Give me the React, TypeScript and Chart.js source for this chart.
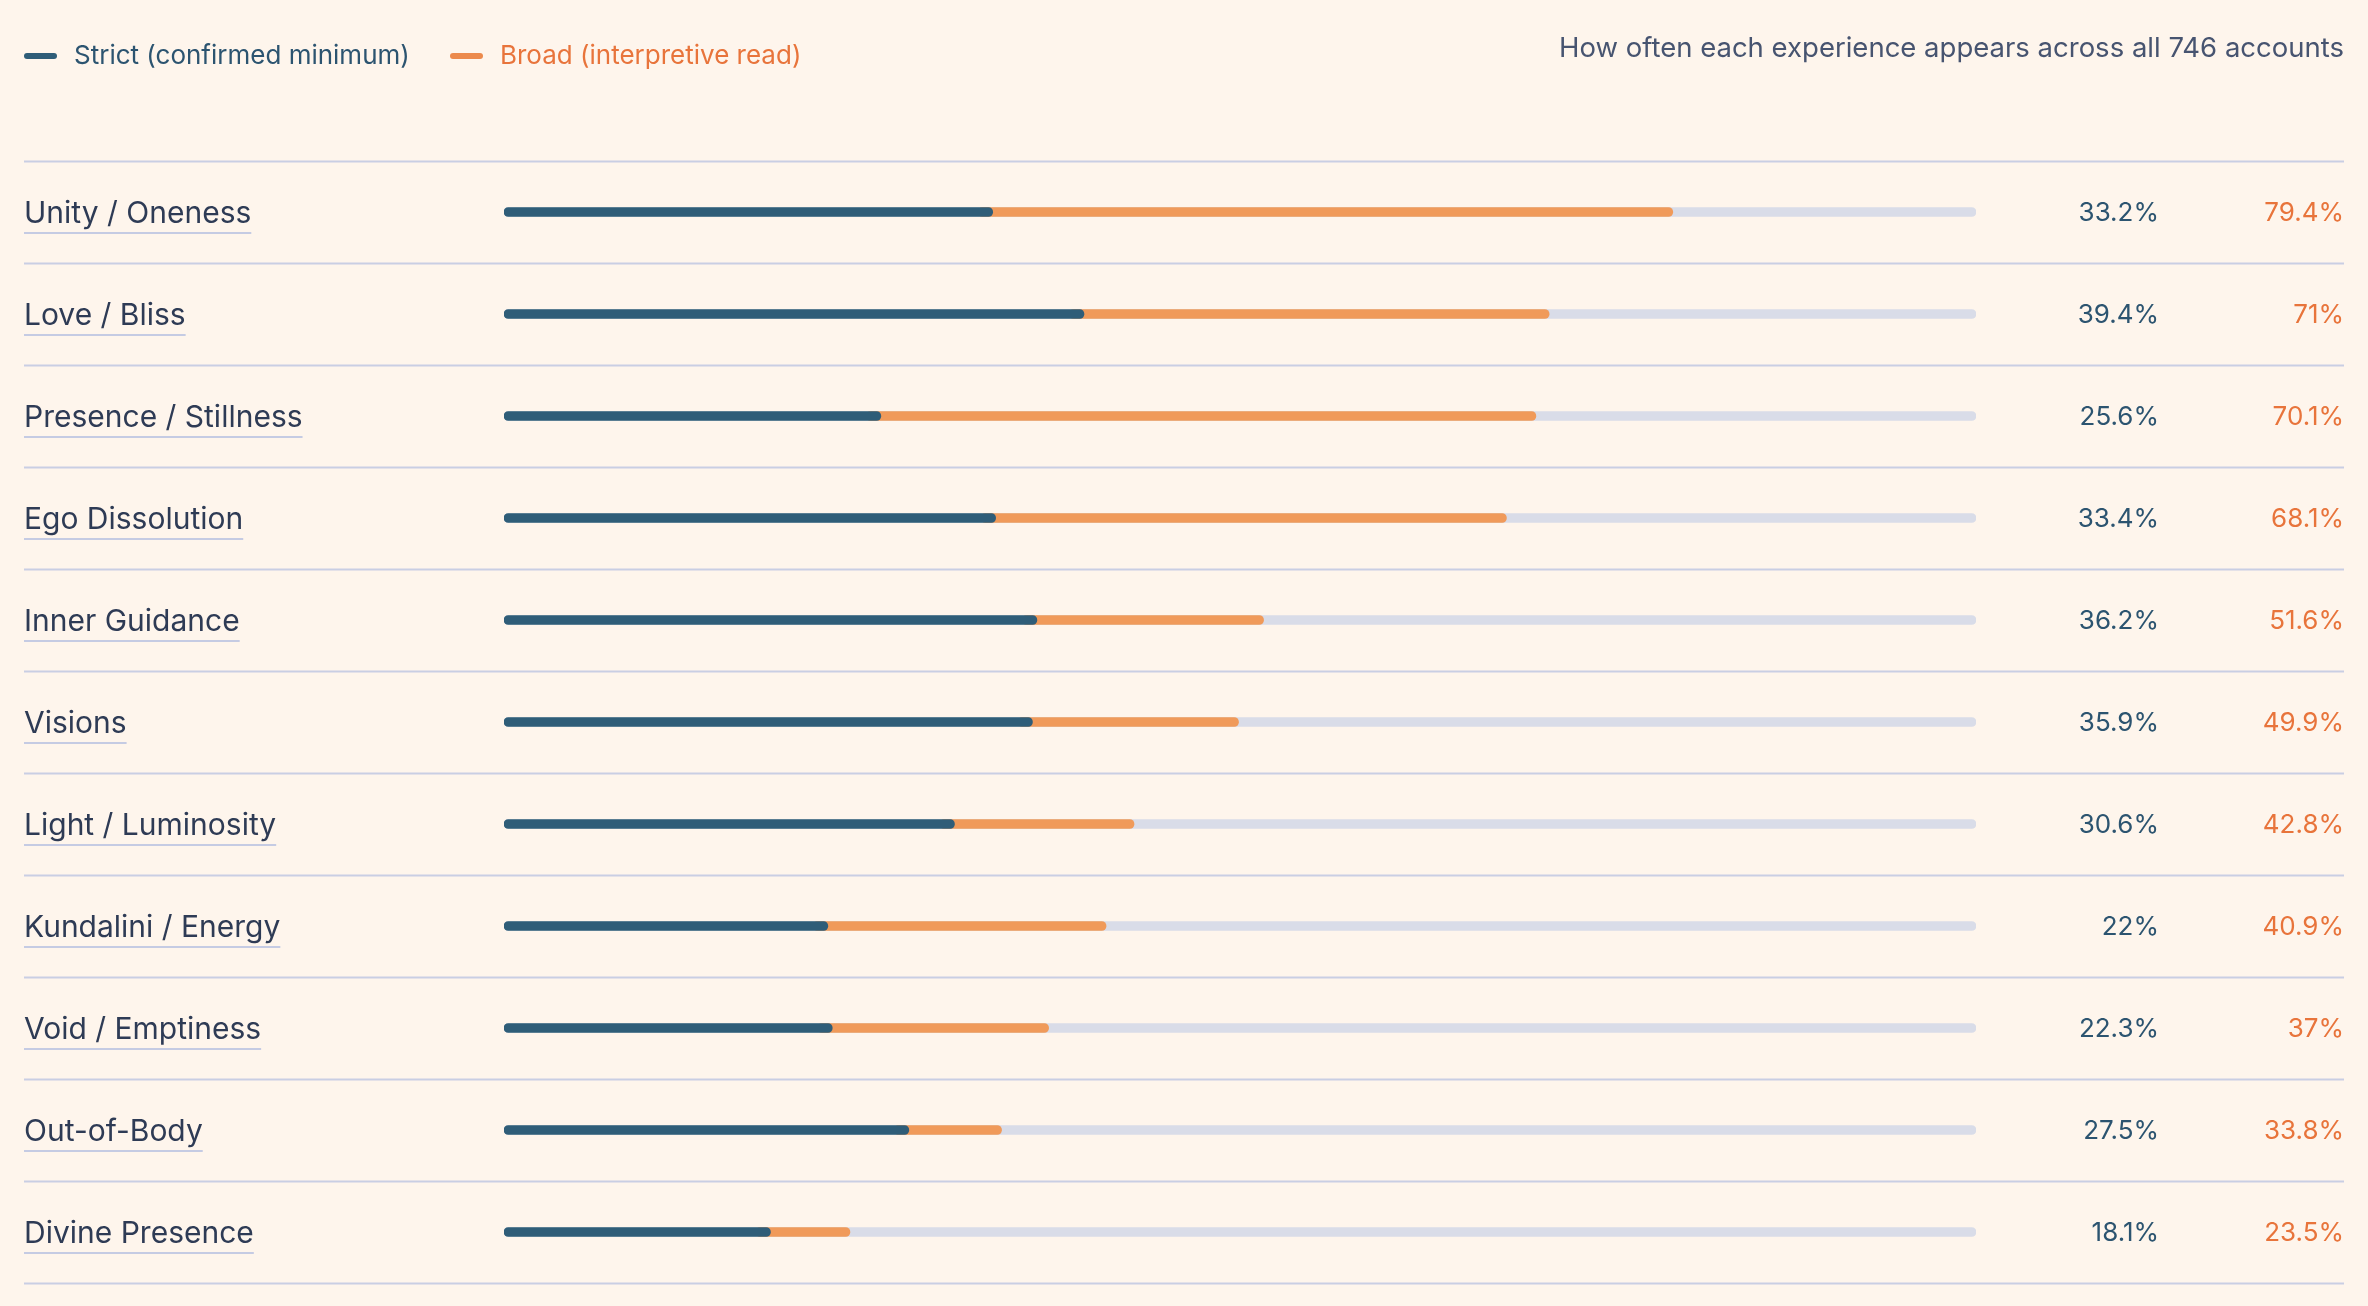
import React, { useEffect, useRef } from "react";
import { Chart, registerables } from "chart.js";
Chart.register(...registerables);

const categories = ["Unity / Oneness","Love / Bliss","Presence / Stillness","Ego Dissolution","Inner Guidance","Visions","Light / Luminosity","Kundalini / Energy","Void / Emptiness","Out-of-Body","Divine Presence"];
const strictValues = [33.2,39.4,25.6,33.4,36.2,35.9,30.6,22,22.3,27.5,18.1];
const broadValues = [79.4,71,70.1,68.1,51.6,49.9,42.8,40.9,37,33.8,23.5];
const title = "How often each experience appears across all 746 accounts";
const legendLabels = ["Strict (confirmed minimum)", "Broad (interpretive read)"];

const STRICT = "#2f5d78";
const BROAD = "#f09a5a";
const STRICT_TXT = "#2c5470";
const BROAD_TXT = "#e8743b";
const FONT = "Inter, 'Noto Sans', sans-serif";

export default function App() {
  const ref = useRef<HTMLCanvasElement>(null);
  useEffect(() => {
    document.body.style.background = "#fef5ec";
    const deco = {
      id: "deco",
      afterDatasetsDraw(chart: any) {
        const ctx = chart.ctx as CanvasRenderingContext2D;
        const y = chart.scales.y;
        const W = chart.width;
        ctx.save();
        const leg = [[16, STRICT, STRICT_TXT, legendLabels[0]], [442, "#ec8a4c", BROAD_TXT, legendLabels[1]]] as any[];
        ctx.font = `26px ${FONT}`;
        ctx.textBaseline = "middle";
        leg.forEach(([x, sw, tc, t]) => {
          ctx.strokeStyle = sw; ctx.lineWidth = 6; ctx.lineCap = "round";
          ctx.beginPath(); ctx.moveTo(x + 3, 48); ctx.lineTo(x + 30, 48); ctx.stroke();
          ctx.fillStyle = tc; ctx.textAlign = "left"; ctx.fillText(t, x + 50, 48);
        });
        ctx.font = `27.5px ${FONT}`;
        ctx.fillStyle = "#475470"; ctx.textAlign = "right";
        ctx.fillText(title, W - 16, 41);
        const step = y.getPixelForValue(1) - y.getPixelForValue(0);
        ctx.strokeStyle = "#c9cee3"; ctx.lineWidth = 2; ctx.lineCap = "butt";
        for (let i = 0; i <= categories.length; i++) {
          const yy = Math.round(y.getPixelForValue(i) - step / 2) + 0.5;
          ctx.beginPath(); ctx.moveTo(16, yy); ctx.lineTo(W - 16, yy); ctx.stroke();
        }
        categories.forEach((c, i) => {
          const cy = y.getPixelForValue(i);
          ctx.font = `30px ${FONT}`;
          ctx.textAlign = "left"; ctx.textBaseline = "alphabetic";
          ctx.fillStyle = "#2e3b55";
          ctx.fillText(c, 16, cy + 11);
          const w = ctx.measureText(c).width;
          ctx.strokeStyle = "#c5cbe3"; ctx.lineWidth = 2;
          ctx.beginPath(); ctx.moveTo(16, cy + 21); ctx.lineTo(16 + w, cy + 21); ctx.stroke();
          ctx.font = `26px ${FONT}`;
          ctx.textAlign = "right"; ctx.textBaseline = "middle";
          ctx.fillStyle = STRICT_TXT; ctx.fillText(strictValues[i] + "%", 2151, cy + 1);
          ctx.fillStyle = BROAD_TXT; ctx.fillText(broadValues[i] + "%", W - 16, cy + 1);
        });
        ctx.restore();
      },
    };
    const chart = new Chart(ref.current!, {
      type: "bar",
      data: {
        labels: categories,
        datasets: [
          { data: strictValues.map((v) => [0, v]) as any, backgroundColor: STRICT, order: 1 },
          { data: strictValues.map((v, i) => [v - 1, broadValues[i]]) as any, backgroundColor: BROAD, order: 2 },
          { data: categories.map(() => [0, 100]) as any, backgroundColor: "#d9dce8", order: 3 },
        ].map((d) => ({ ...d, grouped: false, barThickness: 9, borderRadius: 5, borderSkipped: false })) as any,
      },
      options: {
        indexAxis: "y",
        animation: false,
        responsive: true,
        maintainAspectRatio: false,
        layout: { padding: { left: 496, right: 384, top: 153, bottom: 15 } },
        scales: {
          x: { display: false, min: 0, max: 100 },
          y: { display: false },
        },
        plugins: { legend: { display: false }, tooltip: { enabled: false } },
      },
      plugins: [deco],
    });
    return () => chart.destroy();
  }, []);
  return (
    <div style={{ width: 2352, height: 1290, background: "#fef5ec" }}>
      <canvas ref={ref} />
    </div>
  );
}
